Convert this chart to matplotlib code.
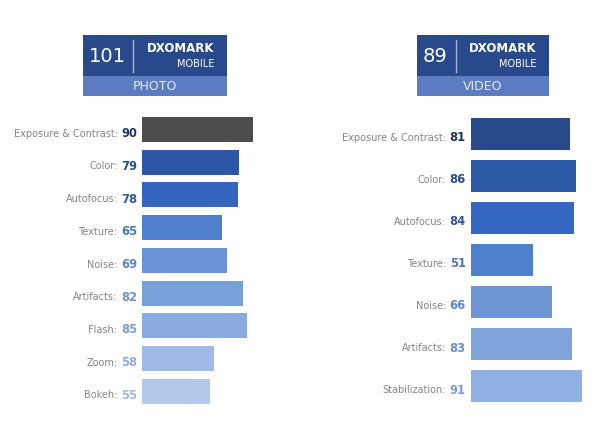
import matplotlib.pyplot as plt
from matplotlib.patches import Rectangle

# scores
photo_score = 101
video_score = 89

photo_labels = ["Exposure & Contrast", "Color", "Autofocus", "Texture", "Noise",
                "Artifacts", "Flash", "Zoom", "Bokeh"]
photo_values = [90, 79, 78, 65, 69, 82, 85, 58, 55]
photo_bar_colors = ["#4d4d4d", "#2e58a6", "#3466bf", "#4f7fcc", "#6a92d4",
                    "#7aa0da", "#8aabe0", "#a0b9e6", "#b4c8ec"]
photo_num_colors = ["#1e3566", "#294c90", "#2f58a4", "#4a76c2", "#5c87cc",
                    "#6c91d0", "#7b9dd6", "#8eacdd", "#9fb9e4"]

video_labels = ["Exposure & Contrast", "Color", "Autofocus", "Texture", "Noise",
                "Artifacts", "Stabilization"]
video_values = [81, 86, 84, 51, 66, 83, 91]
video_bar_colors = ["#284a8a", "#2d5aa6", "#3568c0", "#4f80cf", "#6d95d5",
                    "#7fa4dc", "#8fb0e2"]
video_num_colors = ["#1e3566", "#294c90", "#2f58a4", "#4a76c2", "#5c87cc",
                    "#6c91d0", "#7b9dd6"]

W, H = 600, 438
fig = plt.figure(figsize=(W / 100, H / 100), dpi=100)
plt.rcParams['font.family'] = ['DejaVu Sans']


def px_axes(left, top, width, height):
    return fig.add_axes([left / W, (H - top - height) / H, width / W, height / H])


def draw_panel(ax, labels, values, bar_colors, num_colors, bar_h):
    ys = list(range(len(labels)))
    ax.barh(ys, values, height=bar_h, color=bar_colors, edgecolor='none')
    ax.set_xlim(0, 100)
    ax.set_ylim(len(labels) - 0.5, -0.5)
    ax.axis('off')
    for y, lab, v, c in zip(ys, labels, values, num_colors):
        num = ax.annotate(str(v), xy=(0, y), xytext=(-3.6, -3), textcoords='offset points',
                          ha='right', va='center', fontsize=8.3, fontweight='bold', color=c)
        ax.annotate(lab + ":", xy=(0, 0.5), xycoords=num, xytext=(-2.5, 0),
                    textcoords='offset points', ha='right', va='center',
                    fontsize=7, color='#858585')


# photo panel: bars start at x=142px, 1.233 px per point
ax1 = px_axes(142, 113.2, 123.3, 294.3)
draw_panel(ax1, photo_labels, photo_values, photo_bar_colors, photo_num_colors, 0.765)

# video panel
ax2 = px_axes(470.7, 112.5, 122.6, 294.5)
draw_panel(ax2, video_labels, video_values, video_bar_colors, video_num_colors, 0.76)

# badges drawn on an overlay in pixel coordinates
ov = fig.add_axes([0, 0, 1, 1])
ov.set_xlim(0, W)
ov.set_ylim(H, 0)
ov.axis('off')


def badge(x0, x1, score, line_x, score_x, title):
    ov.add_patch(Rectangle((x0, 35), x1 - x0, 41, color='#284a8c', lw=0))
    ov.add_patch(Rectangle((x0, 76), x1 - x0, 20, color='#5b7cc0', lw=0))
    ov.plot([line_x, line_x], [40, 72], color='#9fb3dc', lw=1)
    ov.text(score_x, 56, str(score), color='white', fontsize=14, ha='center', va='center')
    ov.text(x1 - 13, 48, "DXOMARK", color='white', fontsize=8.5, fontweight='semibold',
            ha='right', va='center')
    ov.text(x1 - 13, 64, "MOBILE", color='white', fontsize=7, ha='right', va='center')
    ov.text((x0 + x1) / 2, 86.5, title, color='#e3e9f5', fontsize=9, ha='center', va='center')


badge(83, 227, photo_score, 133, 107, "PHOTO")
badge(417, 549, video_score, 456, 435, "VIDEO")

fig.savefig("out.png", dpi=100, facecolor='white')
